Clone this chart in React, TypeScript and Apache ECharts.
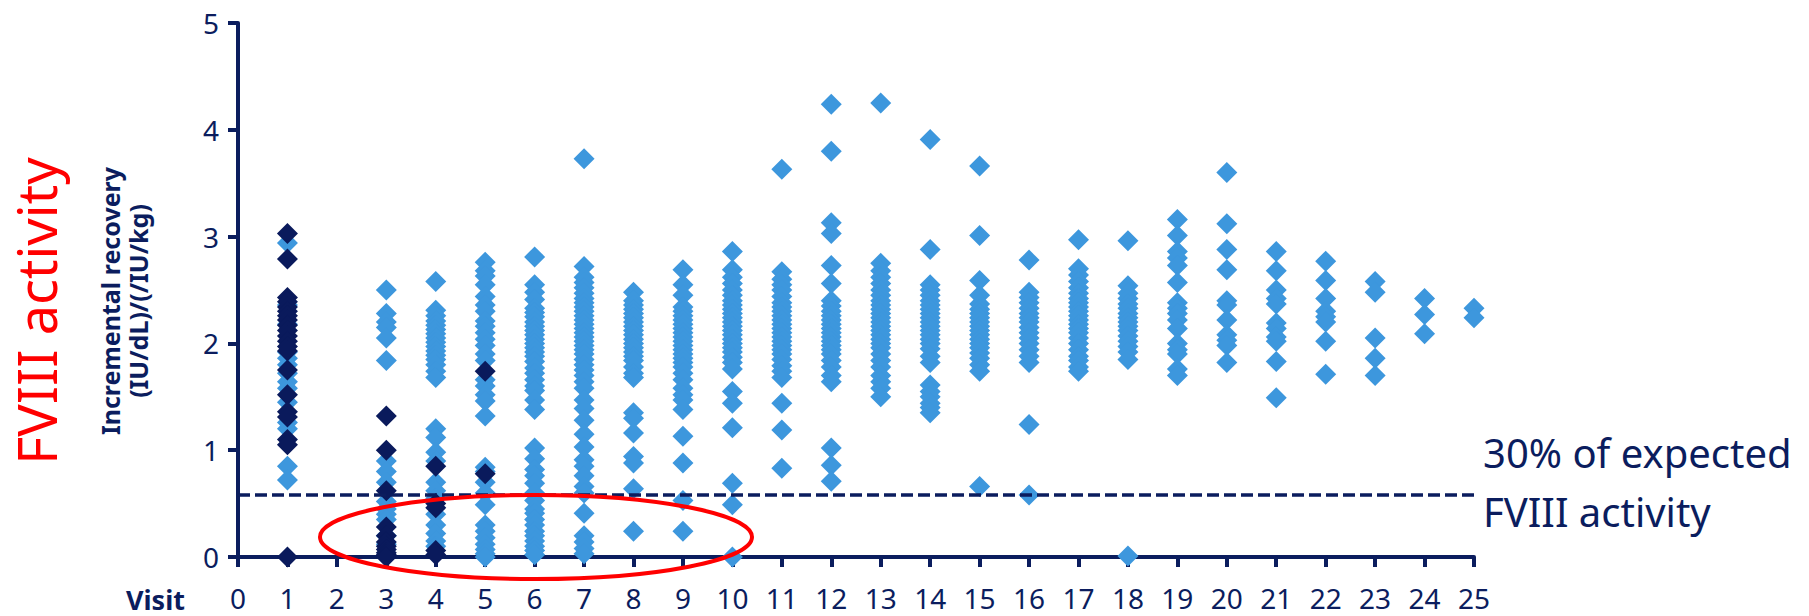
import React, { useEffect, useRef } from "react";
import * as echarts from "echarts";

// ---- Data (visit -> incremental recovery values) ----
const visitTicks = [0, 1, 2, 3, 4, 5, 6, 7, 8, 9, 10, 11, 12, 13, 14, 15, 16, 17, 18, 19, 20, 21, 22, 23, 24, 25];

const light1 = [2.94, 2.36, 2.18, 1.92, 1.86, 1.8, 1.72, 1.64, 1.58, 1.45, 1.26, 1.2, 0.85, 0.72];
const dark1 = [3.03, 2.79, 2.43, 2.39, 2.34, 2.3, 2.26, 2.22, 2.17, 2.12, 2.07, 2.02, 1.97, 1.93, 1.75, 1.52, 1.36, 1.31, 1.1, 1.05, 0];
const light3 = [2.5, 2.28, 2.2, 2.15, 2.05, 1.84, 0.9, 0.8, 0.7, 0.52, 0.45, 0.4, 0.35, 0.2, 0.12];
const dark3 = [1.32, 1.0, 0.62, 0.28, 0.2, 0.14, 0.1, 0.07, 0.04, 0.02, 0.0];
const light4 = [2.58, 2.31, 2.26, 2.21, 2.17, 2.13, 2.09, 2.05, 2.01, 1.97, 1.93, 1.89, 1.85, 1.8, 1.74, 1.68, 1.2, 1.12, 0.98, 0.9, 0.7, 0.62, 0.55, 0.4, 0.3, 0.22, 0.15, 0.1];
const dark4 = [0.85, 0.5, 0.46, 0.06, 0.02];
const light5 = [2.76, 2.68, 2.63, 2.55, 2.44, 2.36, 2.3, 2.21, 2.16, 2.1, 2.04, 1.98, 1.9, 1.84, 1.66, 1.6, 1.52, 1.46, 1.32, 0.84, 0.8, 0.7, 0.6, 0.49, 0.3, 0.24, 0.18, 0.12, 0.07, 0.03, 0];
const dark5 = [1.74, 0.78];
const light6 = [2.81, 2.55, 2.48, 2.41, 2.33, 2.29, 2.25, 2.2, 2.16, 2.12, 2.08, 2.04, 2.0, 1.96, 1.92, 1.88, 1.83, 1.77, 1.72, 1.66, 1.6, 1.56, 1.47, 1.38, 1.02, 0.92, 0.82, 0.76, 0.69, 0.6, 0.53, 0.45, 0.41, 0.35, 0.3, 0.24, 0.2, 0.15, 0.1, 0.06, 0.02];
const light7 = [3.73, 2.72, 2.62, 2.57, 2.52, 2.47, 2.42, 2.38, 2.34, 2.3, 2.26, 2.22, 2.18, 2.14, 2.1, 2.06, 2.02, 1.98, 1.94, 1.9, 1.85, 1.8, 1.75, 1.7, 1.64, 1.58, 1.47, 1.39, 1.28, 1.15, 1.03, 0.91, 0.85, 0.76, 0.66, 0.6, 0.41, 0.2, 0.14, 0.08, 0.03];
const light8 = [2.48, 2.4, 2.36, 2.32, 2.28, 2.24, 2.2, 2.16, 2.12, 2.08, 2.04, 2.0, 1.96, 1.92, 1.88, 1.84, 1.78, 1.72, 1.68, 1.35, 1.3, 1.16, 0.94, 0.88, 0.64, 0.24];
const light9 = [2.69, 2.55, 2.45, 2.34, 2.3, 2.26, 2.22, 2.18, 2.14, 2.1, 2.06, 2.02, 1.98, 1.94, 1.9, 1.86, 1.82, 1.78, 1.72, 1.66, 1.58, 1.52, 1.47, 1.38, 1.13, 0.88, 0.53, 0.24];
const light10 = [2.86, 2.69, 2.62, 2.56, 2.5, 2.45, 2.4, 2.36, 2.32, 2.28, 2.24, 2.2, 2.16, 2.12, 2.08, 2.04, 2.0, 1.96, 1.92, 1.87, 1.82, 1.76, 1.55, 1.44, 1.21, 0.69, 0.49, 0.0];
const light11 = [3.63, 2.67, 2.6, 2.55, 2.5, 2.44, 2.38, 2.34, 2.3, 2.26, 2.22, 2.18, 2.14, 2.1, 2.06, 2.02, 1.98, 1.94, 1.9, 1.85, 1.79, 1.74, 1.68, 1.44, 1.19, 0.83];
const light12 = [4.24, 3.8, 3.13, 3.03, 2.73, 2.56, 2.4, 2.35, 2.3, 2.26, 2.22, 2.18, 2.14, 2.1, 2.06, 2.02, 1.98, 1.94, 1.9, 1.84, 1.78, 1.7, 1.64, 1.02, 0.86, 0.71];
const light13 = [4.25, 2.75, 2.68, 2.62, 2.56, 2.5, 2.45, 2.4, 2.36, 2.32, 2.28, 2.24, 2.2, 2.16, 2.12, 2.08, 2.04, 2.0, 1.96, 1.9, 1.84, 1.78, 1.7, 1.64, 1.58, 1.5];
const light14 = [3.91, 2.88, 2.55, 2.5, 2.45, 2.4, 2.36, 2.32, 2.28, 2.24, 2.2, 2.16, 2.12, 2.08, 2.04, 2.0, 1.95, 1.88, 1.82, 1.61, 1.55, 1.5, 1.44, 1.4, 1.35];
const light15 = [3.66, 3.01, 2.59, 2.45, 2.37, 2.32, 2.28, 2.24, 2.2, 2.16, 2.12, 2.08, 2.04, 2.0, 1.96, 1.91, 1.86, 1.8, 1.74, 0.66];
const light16 = [2.78, 2.48, 2.43, 2.38, 2.33, 2.28, 2.24, 2.2, 2.15, 2.1, 2.05, 2.0, 1.94, 1.88, 1.82, 1.24, 0.58];
const light17 = [2.97, 2.7, 2.64, 2.58, 2.52, 2.47, 2.42, 2.38, 2.34, 2.3, 2.26, 2.22, 2.18, 2.14, 2.1, 2.05, 2.0, 1.94, 1.88, 1.84, 1.78, 1.74];
const light18 = [2.96, 2.54, 2.47, 2.42, 2.37, 2.33, 2.28, 2.24, 2.2, 2.16, 2.12, 2.07, 2.02, 1.97, 1.92, 1.85, 0.01];
const light19 = [3.16, 3.01, 2.86, 2.8, 2.73, 2.57, 2.38, 2.33, 2.28, 2.22, 2.14, 2.0, 1.94, 1.9, 1.76, 1.7];
const light20 = [3.6, 3.12, 2.88, 2.69, 2.4, 2.36, 2.22, 2.08, 2.03, 1.98, 1.82];
const light21 = [2.86, 2.68, 2.5, 2.42, 2.37, 2.19, 2.14, 2.06, 2.02, 1.83, 1.49];
const light22 = [2.77, 2.59, 2.42, 2.3, 2.25, 2.2, 2.02, 1.71];
const light23 = [2.58, 2.48, 2.05, 1.86, 1.7];
const light24 = [2.42, 2.27, 2.09];
const light25 = [2.33, 2.24];

const lightByVisit: [number, number[]][] = [
  [1, light1], [3, light3], [4, light4], [5, light5], [6, light6], [7, light7],
  [8, light8], [9, light9], [10, light10], [11, light11], [12, light12], [13, light13],
  [14, light14], [15, light15], [16, light16], [17, light17], [18, light18], [19, light19],
  [20, light20], [21, light21], [22, light22], [23, light23], [24, light24], [25, light25],
];
const darkByVisit: [number, number[]][] = [
  [1, dark1], [3, dark3], [4, dark4], [5, dark5],
];

const yTicks = [0, 1, 2, 3, 4, 5];
const thresholdValue = 0.58;

const NAVY = "#0b1d5e";
const LIGHT = "#3d97dd";
const DARK = "#0a1a5c";
const FONT = "'Noto Sans', 'Open Sans', sans-serif";

function flatten(groups: [number, number[]][]) {
  const out: number[][] = [];
  groups.forEach(([v, vals]) => vals.forEach((y) => out.push([v, y])));
  return out;
}

export default function App() {
  const ref = useRef<HTMLDivElement>(null);

  useEffect(() => {
    if (!ref.current) return;
    const chart = echarts.init(ref.current, undefined, { renderer: "svg" });
    const axisCommon = {
      axisLine: { show: true, onZero: false, lineStyle: { color: NAVY, width: 4 } },
      axisTick: { show: true, inside: false, length: 10, lineStyle: { color: NAVY, width: 4 } },
      splitLine: { show: false },
    };
    chart.setOption({
      animation: false,
      backgroundColor: "#ffffff",
      grid: { left: 238, top: 23, right: 335, bottom: 59, containLabel: false, outerBoundsMode: "none" },
      xAxis: {
        type: "value",
        min: visitTicks[0],
        max: visitTicks[visitTicks.length - 1],
        interval: 1,
        ...axisCommon,
        axisLabel: { color: NAVY, fontSize: 28, lineHeight: 30, fontFamily: FONT, margin: 26 },
      },
      yAxis: {
        type: "value",
        min: yTicks[0],
        max: yTicks[yTicks.length - 1],
        interval: 1,
        ...axisCommon,
        axisLabel: { color: NAVY, fontSize: 28, fontFamily: FONT, margin: 19 },
      },
      series: [
        {
          name: "light",
          type: "scatter",
          symbol: "diamond",
          symbolSize: 21,
          itemStyle: { color: LIGHT, opacity: 1 },
          data: flatten(lightByVisit),
          z: 2,
        },
        {
          name: "dark",
          type: "scatter",
          symbol: "diamond",
          symbolSize: 21,
          itemStyle: { color: DARK, opacity: 1 },
          data: flatten(darkByVisit),
          z: 3,
          markLine: {
            silent: true,
            symbol: ["none", "none"],
            label: { show: false },
            lineStyle: { color: NAVY, width: 3.5, type: [12, 5] },
            data: [{ yAxis: thresholdValue }],
          },
        },
      ],
      graphic: [
        {
          type: "text",
          x: 36,
          y: 311,
          rotation: Math.PI / 2,
          style: {
            text: "FVIII activity",
            fill: "#ff0000",
            fontSize: 54,
            fontFamily: FONT,
            align: "center",
            verticalAlign: "middle",
          },
        },
        {
          type: "text",
          x: 110,
          y: 301,
          rotation: Math.PI / 2,
          style: {
            text: "Incremental recovery",
            fill: NAVY,
            fontSize: 25,
            fontWeight: "bold",
            fontFamily: FONT,
            align: "center",
            verticalAlign: "middle",
          },
        },
        {
          type: "text",
          x: 138,
          y: 301,
          rotation: Math.PI / 2,
          style: {
            text: "(IU/dL)/(/IU/kg)",
            fill: NAVY,
            fontSize: 25,
            fontWeight: "bold",
            fontFamily: FONT,
            align: "center",
            verticalAlign: "middle",
          },
        },
        {
          type: "text",
          x: 126,
          y: 599,
          style: {
            text: "Visit",
            fill: NAVY,
            fontSize: 27,
            lineHeight: 27,
            fontWeight: "bold",
            fontFamily: FONT,
            align: "left",
            verticalAlign: "middle",
          },
        },
        {
          type: "text",
          x: 1483,
          y: 452,
          style: {
            text: "30% of expected",
            fill: NAVY,
            fontSize: 40,
            fontFamily: FONT,
            align: "left",
            verticalAlign: "middle",
          },
        },
        {
          type: "text",
          x: 1483,
          y: 511,
          style: {
            text: "FVIII activity",
            fill: NAVY,
            fontSize: 40,
            fontFamily: FONT,
            align: "left",
            verticalAlign: "middle",
          },
        },
        {
          type: "ellipse",
          z: 100,
          shape: { cx: 536, cy: 537, rx: 216, ry: 42 },
          style: { fill: "none", stroke: "#ff0000", lineWidth: 4 },
        },
      ],
    });
    return () => chart.dispose();
  }, []);

  return (
    <div
      ref={ref}
      style={{ position: "fixed", left: 0, top: 0, width: 1809, height: 616 }}
    />
  );
}
